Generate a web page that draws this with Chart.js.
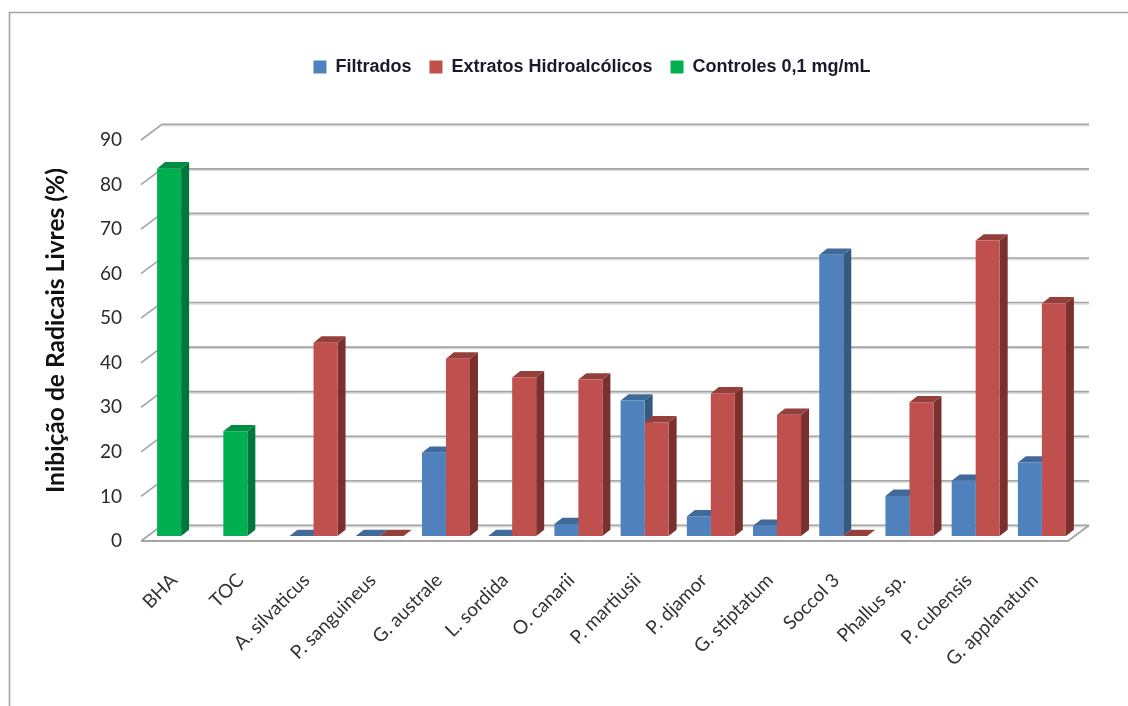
<!DOCTYPE html>
<html><head><meta charset="utf-8">
<style>html,body{margin:0;padding:0;background:#fff}canvas{display:block;filter:blur(0.45px)}</style>
<script src="https://cdn.jsdelivr.net/npm/chart.js@4"></script>
</head><body><canvas id="c" width="1128" height="706"></canvas>
<script>
const categories = ['BHA','TOC','A. silvaticus','P. sanguineus','G. australe','L. sordida','O. canarii','P. martiusii','P. djamor','G. stiptatum','Soccol 3','Phallus sp.','P. cubensis','G. applanatum'];
const filtrados = [null,null,0,0,18.7,0,2.7,30.4,4.4,2.3,63.1,9,12.4,16.5];
const extratos = [null,null,43.4,0,39.8,35.6,35.1,25.5,32,27.2,0,30,66.3,52.2];
const controles = [82.5,23.5,null,null,null,null,null,null,null,null,null,null,null,null];
const yTicks = {min:0,max:90,step:10};

const sideColors = ['#36597f','#7a302e','#00763a'];
const topColors = ['#3f6a9a','#93403d','#008c42'];
const DX=8, DY=6.3, SHIFT_X=7, SHIFT_Y=-5, WALL_X=21, WALL_Y=15.7;

function poly(ctx,pts,fill){ctx.fillStyle=fill;ctx.beginPath();pts.forEach((p,i)=>i?ctx.lineTo(p[0],p[1]):ctx.moveTo(p[0],p[1]));ctx.closePath();ctx.fill();}

const threeD = {
  id:'threeD',
  beforeLayout(chart){
    const l=chart.legend;
    if(l && !l._wrapped){l._wrapped=true;const f=l.fit;l.fit=function(){f.call(l);l.height=100;};}
  },
  afterLayout(chart){ chart.legend.left+=58; chart.legend.right+=58; },
  beforeDraw(chart){
    const {ctx,scales:{x,y}}=chart;
    ctx.save();
    ctx.strokeStyle='#a3a3a3';ctx.lineWidth=1.6;ctx.beginPath();ctx.moveTo(9.5,706);ctx.lineTo(9.5,12.5);ctx.lineTo(1128,12.5);ctx.stroke();
    ctx.lineCap='butt';
    const L=x.left,R=x.right,base=y.getPixelForValue(0);
    y.ticks.forEach(t=>{
      const p=y.getPixelForValue(t.value);
      ctx.strokeStyle='#dcdcdc';ctx.lineWidth=1.5;ctx.beginPath();ctx.moveTo(L+WALL_X,p-WALL_Y+1.5);ctx.lineTo(R+WALL_X,p-WALL_Y+1.5);ctx.stroke();
      ctx.strokeStyle='#a4a4a4';ctx.lineWidth=1.6;ctx.beginPath();ctx.moveTo(L,p);ctx.lineTo(L+WALL_X,p-WALL_Y);ctx.lineTo(R+WALL_X,p-WALL_Y);ctx.stroke();
    });
    ctx.strokeStyle='#a4a4a4';ctx.lineWidth=1.8;ctx.beginPath();ctx.moveTo(L,base);ctx.lineTo(R,base);ctx.lineTo(R+WALL_X,base-WALL_Y);ctx.stroke();
    ctx.restore();
  },
  beforeDatasetsDraw(chart){
    const ctx=chart.ctx;
    ctx.save();ctx.translate(SHIFT_X,SHIFT_Y);
    [0,1,2].forEach(di=>{
      chart.getDatasetMeta(di).data.forEach((b,i)=>{
        if(chart.data.datasets[di].data[i]==null) return;
        const {x,y,base,width}=b.getProps(['x','y','base','width'],true);
        const l=x-width/2,r=x+width/2;
        poly(ctx,[[r,y],[r+DX,y-DY],[r+DX,base-DY],[r,base]],sideColors[di]);
        poly(ctx,[[l,y],[r,y],[r+DX,y-DY],[l+DX,y-DY]],topColors[di]);
      });
    });
  },
  afterDatasetsDraw(chart){ chart.ctx.restore(); }
};

const titleShift = -10;
new Chart(document.getElementById('c'),{
  type:'bar',
  data:{labels:categories,datasets:[
    {label:'Filtrados',data:filtrados,backgroundColor:'#4f81bd',stack:'a'},
    {label:'Extratos Hidroalcólicos',data:extratos,backgroundColor:'#c0504d',stack:'b'},
    {label:'Controles 0,1 mg/mL',data:controles,backgroundColor:'#00b050',stack:'a'}
  ]},
  options:{
    responsive:false,animation:false,
    categoryPercentage:0.725,barPercentage:1,
    layout:{padding:{left:0,right:60,top:40,bottom:0}},
    plugins:{
      tooltip:{enabled:false},
      legend:{position:'top',labels:{boxWidth:13,boxHeight:13,padding:18,color:'#1a1a2a',font:{family:'"Liberation Sans"',weight:'bold',size:18}}}
    },
    scales:{
      x:{stacked:true,grid:{display:false},border:{display:false},
        afterFit(s){s.height=165;},
        ticks:{minRotation:45,maxRotation:45,padding:20,autoSkip:false,color:'#333',font:{family:'Lato',size:19}}},
      y:{stacked:true,min:yTicks.min,max:yTicks.max,grid:{display:false},border:{display:false},
        afterFit(s){s.width=141;
          if(!s._shifted){s._shifted=true;const d=s.drawTitle;s.drawTitle=function(){const c=s.ctx;c.save();c.translate(0,titleShift);d.call(s);c.restore();};}
        },
        ticks:{stepSize:yTicks.step,padding:11,color:'#2a2a2a',font:{family:'Lato',size:19}},
        title:{display:true,text:'Inibição de Radicais Livres (%)',color:'#111',padding:{top:41,bottom:0},font:{family:'Lato',weight:'bold',size:24.6}}}
    }
  },
  plugins:[threeD]
});
</script></body></html>
